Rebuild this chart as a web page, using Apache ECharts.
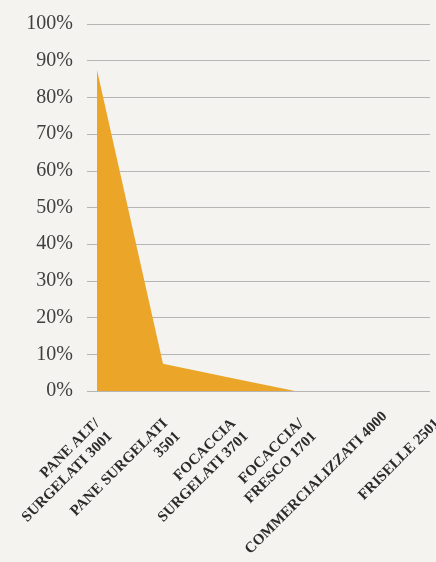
<!DOCTYPE html>
<html>
<head>
<meta charset="utf-8">
<script src="https://cdn.jsdelivr.net/npm/echarts@6/dist/echarts.min.js"></script>
<style>
html,body{margin:0;padding:0;background:#f4f3ef;}
#c{width:436px;height:562px;}
</style>
</head>
<body>
<div id="c"></div>
<script>
const categories = ['PANE ALT/\nSURGELATI 3001', 'PANE SURGELATI\n3501', 'FOCACCIA\nSURGELATI 3701', 'FOCACCIA/\nFRESCO 1701', 'COMMERCIALIZZATI 4000', 'FRISELLE 2501'];
const shares = [0.875, 0.074, 0.037, 0, 0, 0];
const yTicks = [0, 0.1, 0.2, 0.3, 0.4, 0.5, 0.6, 0.7, 0.8, 0.9, 1];

const chart = echarts.init(document.getElementById('c'), null, {renderer: 'canvas'});
const labelData = categories.map((c, i) => i === 4
  ? {value: '\n' + c, textStyle: {padding: [0, -16, 0, 0], lineHeight: 30}}
  : c);
chart.setOption({
  backgroundColor: '#f4f3ef',
  animation: false,
  grid: [
    {left: 87, right: 6, top: 24, height: 367, outerBoundsMode: 'none', containLabel: false},
    {left: 97, right: 9, top: 24, height: 367, outerBoundsMode: 'none', containLabel: false},
    {left: 91, right: 5, top: 24, height: 367, outerBoundsMode: 'none', containLabel: false}
  ],
  xAxis: [
    {gridIndex: 0, type: 'value', show: false, min: 0, max: 1},
    {gridIndex: 1, type: 'category', data: categories, boundaryGap: false,
     axisLine: {show: false}, axisTick: {show: false}, axisLabel: {show: false}, splitLine: {show: false}},
    {gridIndex: 2, type: 'category', data: labelData, boundaryGap: false,
     axisLine: {show: false}, axisTick: {show: false}, splitLine: {show: false},
     axisLabel: {interval: 0, rotate: 45, align: 'right', verticalAlign: 'top', margin: 24,
       fontFamily: 'Liberation Serif', fontWeight: 'bold', fontSize: 15, lineHeight: 18, color: '#2b2b2b'}}
  ],
  yAxis: [
    {gridIndex: 0, type: 'value', min: yTicks[0], max: yTicks[yTicks.length - 1], interval: 0.1,
     axisLine: {show: false}, axisTick: {show: false},
     splitLine: {lineStyle: {color: '#b5b5b5', width: 1}},
     axisLabel: {margin: 14, fontFamily: 'Liberation Serif', fontSize: 20, color: '#404040',
       formatter: v => Math.round(v * 100) + '%'}},
    {gridIndex: 1, type: 'value', min: 0, max: 1, show: false},
    {gridIndex: 2, type: 'value', min: 0, max: 1, show: false}
  ],
  series: [{
    type: 'line', xAxisIndex: 1, yAxisIndex: 1, data: shares,
    symbol: 'none', lineStyle: {width: 0}, areaStyle: {color: '#eba629', opacity: 1},
    itemStyle: {color: '#eba629'}
  }]
});
</script>
</body>
</html>
